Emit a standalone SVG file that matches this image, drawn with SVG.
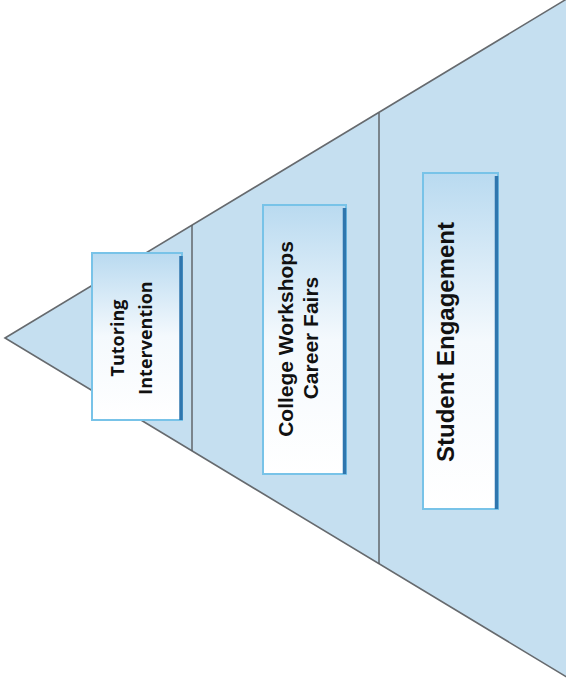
<svg xmlns="http://www.w3.org/2000/svg" width="566" height="685" viewBox="0 0 566 685">
<defs>
<linearGradient id="boxgrad" x1="0" y1="0" x2="0" y2="1">
<stop offset="0" stop-color="#b9daf0"/>
<stop offset="0.5" stop-color="#f4f9fd"/>
<stop offset="1" stop-color="#ffffff"/>
</linearGradient>
</defs>
<style>
.tri{fill:#c5dff0;stroke:#666a6e;stroke-width:1.6;stroke-linejoin:miter}
.div{stroke:#5a5e62;stroke-width:1.4}
.box{fill:url(#boxgrad);stroke:#78c3e8;stroke-width:2}
.shadow{stroke:#2f76ae;stroke-width:3.5}
.t{font-family:"Liberation Sans",Arial,sans-serif;font-weight:bold;fill:#111;text-anchor:middle}
.t1{font-family:"Open Sans","Liberation Sans",sans-serif;font-weight:bold;fill:#111;text-anchor:middle;font-size:18px}
</style>
<rect width="566" height="685" fill="#ffffff"/>
<g id="pyramid">
<polygon class="tri" points="5,338 570,-3 570,679"/>
</g>
<g id="connectors">
<line class="div" x1="192" y1="225" x2="192" y2="451"/>
<line class="div" x1="379" y1="113" x2="379" y2="564"/>
</g>
<g id="node-tutoring">
<rect class="box" x="92" y="253" width="90" height="167"/>
<line class="shadow" x1="181" y1="256" x2="181" y2="420"/>
<text class="t1" transform="rotate(-90 124 338)" x="124" y="338">Tutoring</text>
<text class="t1" transform="rotate(-90 152 338)" x="152" y="338">Intervention</text>
</g>
<g id="node-college">
<rect class="box" x="263" y="205" width="83" height="269"/>
<line class="shadow" x1="344.5" y1="208" x2="344.5" y2="474"/>
<text class="t" font-size="21" transform="rotate(-90 293 339)" x="293" y="339">College Workshops</text>
<text class="t" font-size="21" transform="rotate(-90 318 338)" x="318" y="338">Career Fairs</text>
</g>
<g id="node-student">
<rect class="box" x="423" y="173" width="75" height="336"/>
<line class="shadow" x1="496.5" y1="176" x2="496.5" y2="509"/>
<text class="t" font-size="24" transform="rotate(-90 454 342)" x="454" y="342">Student Engagement</text>
</g>
</svg>
